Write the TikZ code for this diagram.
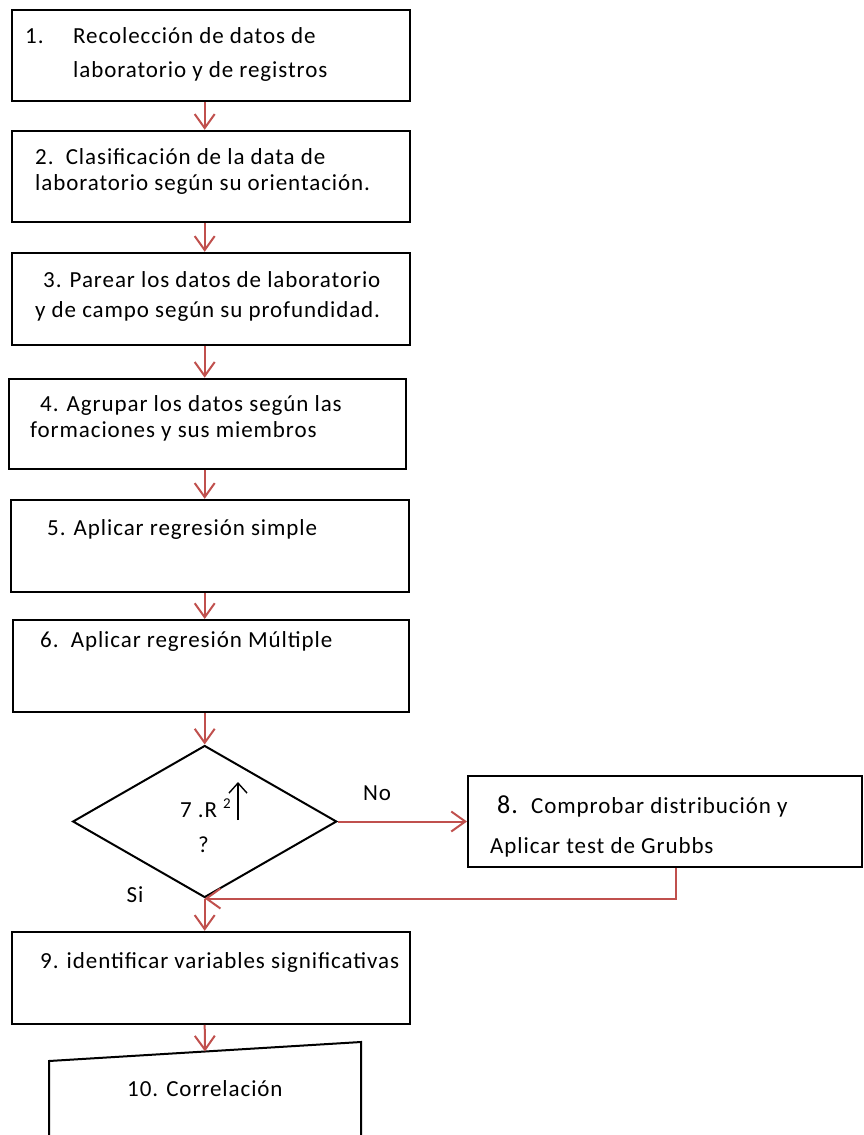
\documentclass[tikz,border=0pt]{standalone}
\usepackage{fontspec}
\setmainfont{Carlito}[LetterSpace=4]
\usetikzlibrary{arrows.meta,shapes.geometric,calc}
\definecolor{flowred}{HTML}{C0504D}

\begin{document}
\begin{tikzpicture}[
  x=1pt,y=-1pt,
  font=\fontsize{23}{26}\selectfont,
  box/.style={draw,line width=2pt,inner sep=0pt,minimum width=398pt,minimum height=91pt},
  decision/.style={draw,line width=2pt,diamond,inner sep=0pt,minimum width=264pt,minimum height=152pt},
  flow/.style={-{Straight Barb[length=14pt,width=20pt,line width=2pt]},draw=flowred,line width=2pt},
  txt/.style={anchor=base west,inner sep=0pt}
]
\useasboundingbox (0,0) rectangle (863,1135);

% boxes of the flow, top to bottom
\node[box] (collect) at (211,55.5) {};
\node[box] (classify) at (211,176.3) {};
\node[box,minimum height=92pt] (pair) at (211,298.8) {};
\node[box,minimum width=397pt,minimum height=90pt] (group) at (207.5,423.7) {};
\node[box,minimum height=92pt] (simple) at (210,545.8) {};
\node[box,minimum width=396pt,minimum height=92pt] (multiple) at (211,666) {};
\node[decision] (rtest) at (204.7,821.5) {};
\node[box,minimum width=394pt] (grubbs) at (665,821.5) {};
\node[box,minimum height=92pt] (signif) at (211,977.8) {};
\coordinate (corrnw) at (49,1061);
\coordinate (corrne) at (361,1042);
\draw[line width=2pt] (49,1140) -- (corrnw) -- (corrne) -- (361,1140);

% texts
\node[txt] (t1a) at (25,43) {1.};
\node[txt] (t1b) at (73,43) {Recolección de datos de};
\node[txt] (t1c) at (73,77) {laboratorio y de registros};
\node[txt] (t2a) at (35,164) {2.\ \ Clasificación de la data de};
\node[txt] (t2b) at (35,190) {laboratorio según su orientación.};
\node[txt] (t3a) at (43,287) {3. Parear los datos de laboratorio};
\node[txt] (t3b) at (35,317) {y de campo según su profundidad.};
\node[txt] (t4a) at (40,411) {4. Agrupar los datos según las};
\node[txt] (t4b) at (30,437) {formaciones y sus miembros};
\node[txt] (t5) at (47,535) {5. Aplicar regresión simple};
\node[txt] (t6) at (40,647) {6.\ \ Aplicar regresión Múltiple};
\node[txt] (t7a) at (180,817) {7 .R};
\node[txt,font=\fontsize{15}{17}\selectfont] (t7b) at (223,808) {2};
\node[txt] (t7c) at (198,852) {?};
\node[txt,font=\fontsize{26}{28}\selectfont] (t8a) at (497,813) {8.};
\node[txt] (t8b) at (531,813) {Comprobar distribución y};
\node[txt] (t8c) at (490,853) {Aplicar test de Grubbs};
\node[txt] (t9) at (40,968) {9. identificar variables significativas};
\node[txt] (t10) at (127,1096) {10. Correlación};
\node (no) at (377,793) {No};
\node (si) at (135,895) {Si};
\draw[-{Straight Barb[length=10pt,width=18pt]},line width=1.4pt] (238,820) -- (238,782);

% connectors
\draw[flow] (collect.south -| rtest.north) -- (classify.north -| rtest.north);
\draw[flow] (classify.south -| rtest.north) -- (pair.north -| rtest.north);
\draw[flow] (pair.south -| rtest.north) -- (group.north -| rtest.north);
\draw[flow] (group.south -| rtest.north) -- (simple.north -| rtest.north);
\draw[flow] (simple.south -| rtest.north) -- (multiple.north -| rtest.north);
\draw[flow] (multiple.south -| rtest.north) -- (rtest.north);
\draw[flow] (rtest.east) -- (rtest.east -| grubbs.west);
\draw[flow] ([xshift=11pt]grubbs.south) |- (rtest.south);
\draw[flow] (rtest.south) -- (signif.north -| rtest.south);
\draw[flow] (signif.south -| rtest.south) -- ($(corrnw)!0.5!(corrne)$);
\end{tikzpicture}
\end{document}
